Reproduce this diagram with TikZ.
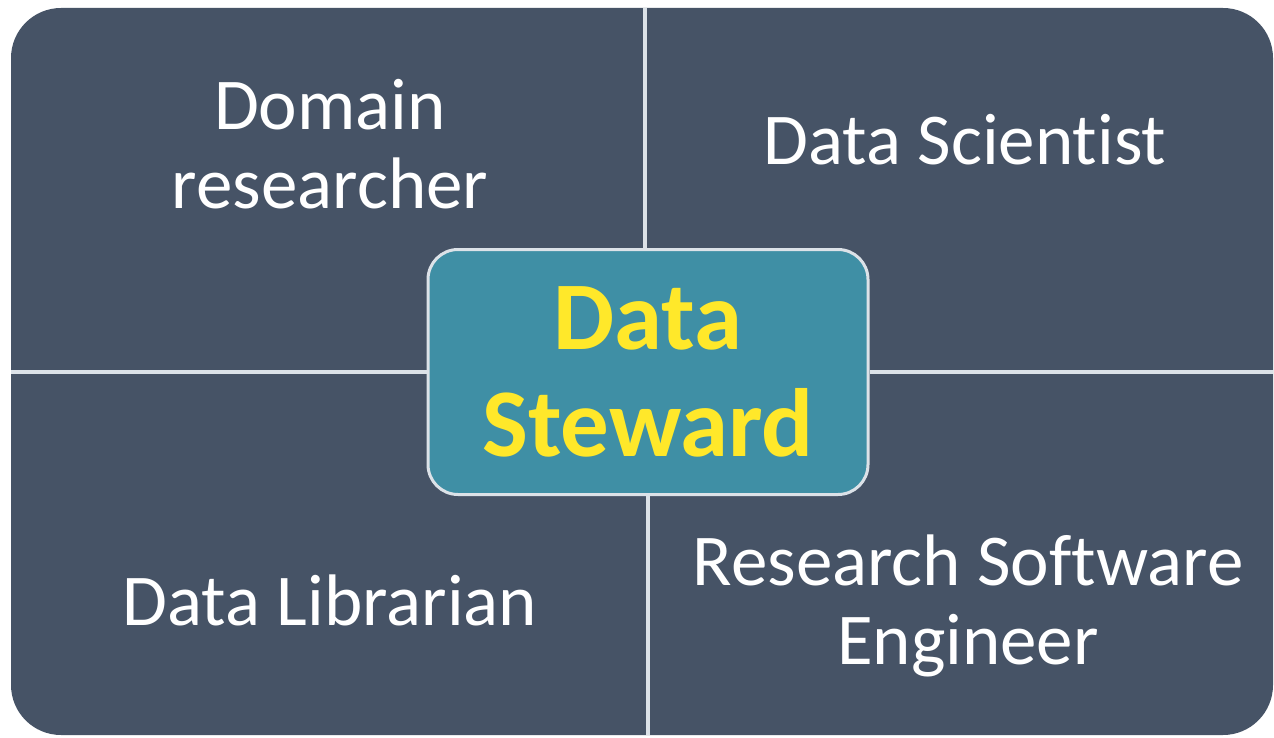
\documentclass[tikz,border=0pt]{standalone}
\usepackage{fontspec}
\setmainfont[Ligatures=NoCommon]{Carlito}
\definecolor{panel}{HTML}{465366}
\definecolor{divider}{HTML}{DCE2E8}
\definecolor{steward}{HTML}{3F8FA5}
\definecolor{gold}{HTML}{FFE82A}
\tikzset{
  role/.style={text=white, align=center, font=\fontsize{73}{79}\selectfont},
  centerbox/.style={draw=divider, line width=3pt, fill=steward, rounded corners=30pt,
    minimum width=440pt, minimum height=245pt, inner sep=0pt, text=gold, align=center,
    font=\bfseries\fontsize{97}{107}\selectfont},
  divline/.style={draw=divider, line width=3.5pt}
}
\begin{document}
\begin{tikzpicture}[x=1pt,y=-1pt]
\useasboundingbox (0,0) rectangle (1274,738);
\fill[white] (0,0) rectangle (1274,738);
\fill[panel, rounded corners=50pt] (11,8) rectangle (1273,735);
\node[centerbox] (ds) at (648,372) {Data\\Steward};
\coordinate (top) at (645,8);
\coordinate (bot) at (648,735);
\coordinate (lft) at (11,372);
\coordinate (rgt) at (1273,372);
\draw[divline] (top) -- (top |- ds.north);
\draw[divline] (ds.south) -- (bot);
\draw[divline] (lft) -- (ds.west);
\draw[divline] (ds.east) -- (rgt);
\node[role] (dr) at (330,144) {Domain\\researcher};
\node[role] (sci) at (965,140) {Data Scientist};
\node[role] (lib) at (330,600) {Data Librarian};
\node[role] (rse) at (968,606) {Research Software\\Engineer};
\end{tikzpicture}
\end{document}
